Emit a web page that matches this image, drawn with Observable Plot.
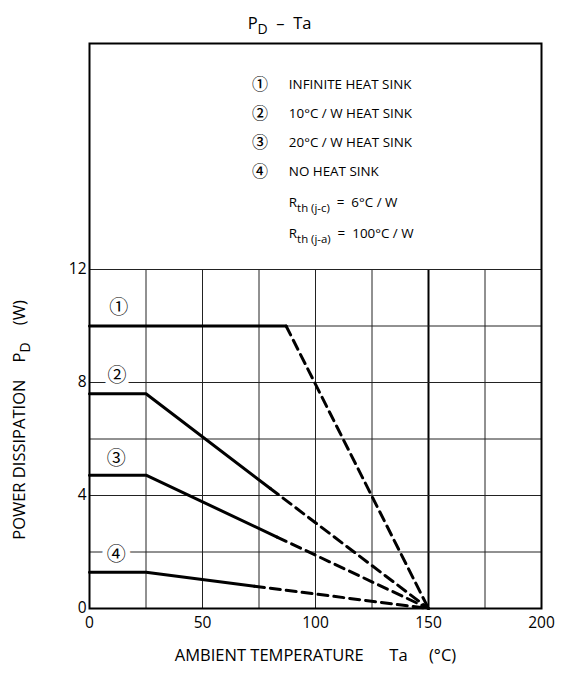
<!DOCTYPE html>
<html><head><meta charset="utf-8">
<script src="https://cdn.jsdelivr.net/npm/d3@7"></script>
<script src="https://cdn.jsdelivr.net/npm/@observablehq/plot@0.6"></script>
<style>
body{margin:0;background:#fff;}
svg{display:block}
svg text{white-space:pre}
</style>
</head><body><div id="chart"></div>
<script>
// ---- data ----
const curveLabels = ["①", "②", "③", "④"];
const flatPD = [10, 7.6, 4.72, 1.28];        // W, flat part
const kneeTa = [87, 25, 25, 25];             // °C, end of flat part
const solidEndTa = [87, 80, 83, 73];         // °C, end of solid part
const solidEndPD = [10, 4.25, 2.53, 0.79];   // W, end of solid part
const zeroPowerTa = 150;                     // °C, all curves reach 0 W
const labelTa = [12.9, 12.2, 11.8, 11.8];
const labelPD = [10.63, 8.22, 5.28, 1.9];

const xTicks = [0, 50, 100, 150, 200];
const yTicks = [0, 4, 8, 12];
const xGrid = [0, 25, 50, 75, 100, 125, 175, 200];
const xGridBold = [150];
const yGrid = [0, 2, 4, 6, 8, 10, 12];

const legendMarks = ["①", "②", "③", "④", "", ""];
const legendTexts = ["INFINITE HEAT SINK", "10°C / W HEAT SINK", "20°C / W HEAT SINK", "NO HEAT SINK",
  "R_{th (j-c)}  =  6°C / W", "R_{th (j-a)}  =  100°C / W"];
const legendPD = [18.53, 17.51, 16.48, 15.46, 14.37, 13.27];

const titleText = "P_{D}  –  Ta";
const xTitle = "AMBIENT TEMPERATURE      Ta     (°C)";
const yTitle = "POWER DISSIPATION    P_{D}    (W)";

// ---- build tables ----
const solid = [], dashed = [], labels = [];
curveLabels.forEach((c, i) => {
  solid.push({c, ta: 0, pd: flatPD[i]}, {c, ta: kneeTa[i], pd: flatPD[i]}, {c, ta: solidEndTa[i], pd: solidEndPD[i]});
  dashed.push({c, ta: solidEndTa[i], pd: solidEndPD[i]}, {c, ta: zeroPowerTa, pd: 0});
  labels.push({c, ta: labelTa[i], pd: labelPD[i]});
});
const legendRows = legendTexts.map((t, i) => ({mark: legendMarks[i], text: t, pd: legendPD[i]}));
const legendMarkX = 75.4, legendTextX = 88.2;
const circFont = "'Noto Sans CJK JP', 'DejaVu Sans', sans-serif";

const plot = Plot.plot({
  width: 564, height: 673,
  marginLeft: 89, marginRight: 23, marginTop: 43, marginBottom: 65,
  style: {fontFamily: "'Open Sans', sans-serif", background: "#fff", color: "#000", overflow: "visible"},
  x: {domain: [0, 200]},
  y: {domain: [0, 20]},
  marks: [
    Plot.ruleX(xGrid, {y1: 0, y2: 12, stroke: "#222", strokeWidth: 1}),
    Plot.ruleX(xGridBold, {y1: 0, y2: 12, stroke: "#000", strokeWidth: 2}),
    Plot.ruleY(yGrid, {x1: 0, x2: 200, stroke: "#222", strokeWidth: 1}),
    Plot.frame({stroke: "#000", strokeWidth: 2}),
    Plot.axisX(xTicks, {tickSize: 0, tickPadding: 8, fontSize: 15.5, label: null}),
    Plot.axisY(yTicks, {tickSize: 0, tickPadding: 3, fontSize: 15.5, label: null}),
    Plot.line(solid, {x: "ta", y: "pd", z: "c", stroke: "#000", strokeWidth: 3}),
    Plot.line(dashed, {x: "ta", y: "pd", z: "c", stroke: "#000", strokeWidth: 3, strokeDasharray: "10,6"}),
    Plot.text(labels, {x: "ta", y: "pd", text: "c", fontSize: 19, fontFamily: circFont,
      fill: "#000", stroke: "#fff", strokeWidth: 10}),
    Plot.text(legendRows, {x: () => legendMarkX, y: "pd", text: "mark", fontSize: 16, fontFamily: circFont, fontWeight: 500}),
    Plot.text(legendRows, {x: () => legendTextX, y: "pd", text: "text", fontSize: 13.4, textAnchor: "start"}),
    Plot.text([titleText], {frameAnchor: "top", dx: -36, dy: -26, fontSize: 16.5}),
    Plot.text([xTitle], {frameAnchor: "bottom", dy: 52, fontSize: 16.5}),
    Plot.text([yTitle], {frameAnchor: "left", textAnchor: "middle", rotate: -90, dx: -70, dy: 94, fontSize: 16.5})
  ]
});

// subscripts: "_{...}" -> lowered, slightly smaller tspan
d3.select(plot).selectAll("text").each(function() {
  const t = this.textContent;
  if (!t.includes("_{")) return;
  const sel = d3.select(this);
  sel.text(null);
  const parts = t.split(/(_\{[^}]*\})/);
  let lowered = false;
  parts.forEach(p => {
    if (!p) return;
    if (p.startsWith("_{")) {
      sel.append("tspan").attr("dy", 5).attr("font-size", "0.85em").text(p.slice(2, -1));
      lowered = true;
    } else {
      const ts = sel.append("tspan").text(p);
      if (lowered) { ts.attr("dy", -5); lowered = false; }
    }
  });
});

document.getElementById("chart").appendChild(plot);
</script>
</body></html>
